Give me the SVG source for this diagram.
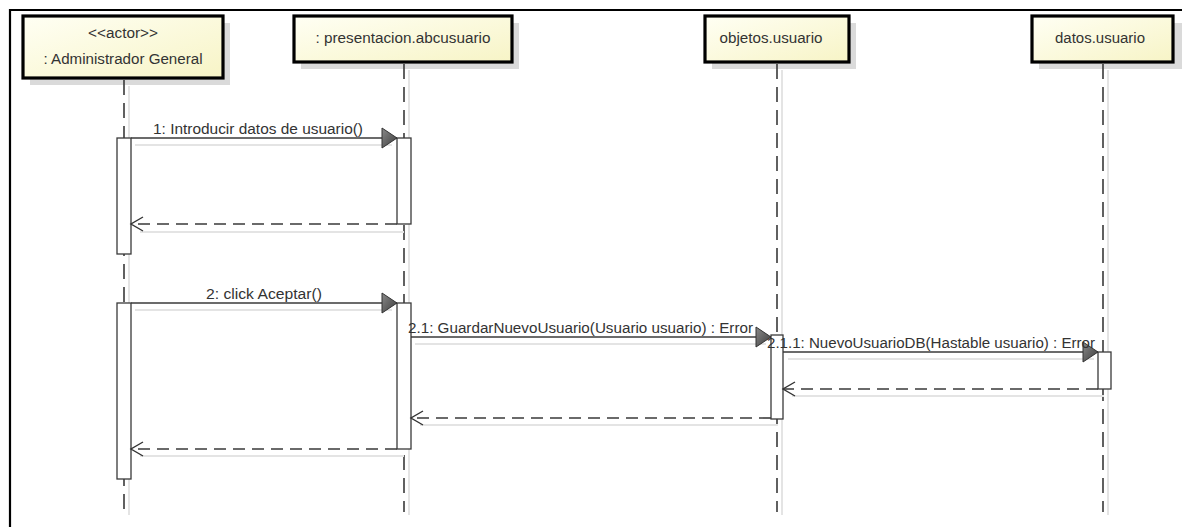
<svg xmlns="http://www.w3.org/2000/svg" width="1182" height="527" viewBox="0 0 1182 527">
  <style>
    .lbl { font-family: "Liberation Sans", Arial, sans-serif; font-size: 15.5px; fill: #333; }
    .box { fill: url(#boxFill); stroke: #000; stroke-width: 3.2; }
    .boxShadow { fill: #dadada; }
    .life { stroke: #3a3a3a; stroke-width: 1.6; stroke-dasharray: 15 8; fill: none; }
    .lifeShadow { stroke: #e4e4e4; stroke-width: 2; fill: none; }
    .act { fill: #fff; stroke: #3a3a3a; stroke-width: 1.3; }
    .call { stroke: #3a3a3a; stroke-width: 1.4; fill: none; marker-end: url(#filledHead); }
    .ret { stroke: #3a3a3a; stroke-width: 1.6; stroke-dasharray: 12 7; fill: none; marker-end: url(#openHead); }
    .msgShadow { stroke: #e4e4e4; stroke-width: 2; fill: none; }
    .frame { stroke: #000; stroke-width: 2.2; fill: none; }
  </style>
  <defs>
    <linearGradient id="boxFill" x1="0" y1="0" x2="1" y2="1">
      <stop offset="0" stop-color="#fffff4"/>
      <stop offset="1" stop-color="#f7f4c6"/>
    </linearGradient>
    <linearGradient id="headFill" x1="0" y1="0" x2="1" y2="1">
      <stop offset="0" stop-color="#8a8a8a"/>
      <stop offset="1" stop-color="#3c3c3c"/>
    </linearGradient>
    <marker id="filledHead" markerUnits="userSpaceOnUse" markerWidth="17" markerHeight="22" refX="15" refY="10" orient="auto" overflow="visible">
      <path d="M0,0 L15,10 L0,20 Z" fill="url(#headFill)" stroke="#333" stroke-width="1"/>
    </marker>
    <marker id="openHead" markerUnits="userSpaceOnUse" markerWidth="14" markerHeight="16" refX="12" refY="7" orient="auto" overflow="visible">
      <path d="M0,0 L12,7 L0,14" fill="none" stroke="#333" stroke-width="1.4"/>
    </marker>
  </defs>

  <rect width="1182" height="527" fill="#fff"/>
  <!-- diagram frame -->
  <path class="frame" d="M10,527 L10,10 L1182,10"/>

  <!-- lifeline shadows -->
  <g id="lifeline-shadows">
    <line class="lifeShadow" x1="129" y1="86" x2="129" y2="515"/>
    <line class="lifeShadow" x1="409" y1="70" x2="409" y2="515"/>
    <line class="lifeShadow" x1="782" y1="70" x2="782" y2="515"/>
    <line class="lifeShadow" x1="1108" y1="70" x2="1108" y2="515"/>
  </g>

  <g id="administrador">
    <rect class="boxShadow" x="30" y="23" width="200" height="62"/>
    <rect class="box" x="23" y="16" width="200" height="62"/>
    <text class="lbl" x="123" y="38" text-anchor="middle" textLength="70" lengthAdjust="spacingAndGlyphs">&lt;&lt;actor&gt;&gt;</text>
    <text class="lbl" x="123" y="64" text-anchor="middle" textLength="159" lengthAdjust="spacingAndGlyphs">: Administrador General</text>
    <line class="life" x1="124" y1="80" x2="124" y2="512"/>
    <rect class="act" x="117" y="138" width="14" height="116"/>
    <rect class="act" x="117" y="303" width="14" height="176"/>
  </g>

  <g id="presentacion">
    <rect class="boxShadow" x="301" y="23" width="218" height="46"/>
    <rect class="box" x="294" y="16" width="218" height="46"/>
    <text class="lbl" x="403" y="43" text-anchor="middle" textLength="175" lengthAdjust="spacingAndGlyphs">: presentacion.abcusuario</text>
    <line class="life" x1="404" y1="64" x2="404" y2="512"/>
    <rect class="act" x="397" y="138" width="14" height="86"/>
    <rect class="act" x="397" y="303" width="14" height="146"/>
  </g>

  <g id="objetos">
    <rect class="boxShadow" x="712" y="23" width="144" height="46"/>
    <rect class="box" x="705" y="16" width="144" height="46"/>
    <text class="lbl" x="771" y="43" text-anchor="middle" textLength="103" lengthAdjust="spacingAndGlyphs">objetos.usuario</text>
    <line class="life" x1="777" y1="64" x2="777" y2="512"/>
    <rect class="act" x="771" y="335" width="12" height="84"/>
  </g>

  <g id="datos">
    <rect class="boxShadow" x="1039" y="23" width="143" height="46"/>
    <rect class="box" x="1032" y="16" width="141" height="46"/>
    <text class="lbl" x="1100" y="43" text-anchor="middle" textLength="90" lengthAdjust="spacingAndGlyphs">datos.usuario</text>
    <line class="life" x1="1103" y1="64" x2="1103" y2="512"/>
    <rect class="act" x="1098" y="352" width="13" height="37"/>
  </g>

  <g id="connectors">
    <!-- soft shadows under the messages -->
    <line class="msgShadow" x1="135" y1="145" x2="392" y2="145"/>
    <line class="msgShadow" x1="140" y1="232" x2="404" y2="232"/>
    <line class="msgShadow" x1="135" y1="310" x2="392" y2="310"/>
    <line class="msgShadow" x1="415" y1="344" x2="766" y2="344"/>
    <line class="msgShadow" x1="788" y1="359" x2="1094" y2="359"/>
    <line class="msgShadow" x1="792" y1="396" x2="1104" y2="396"/>
    <line class="msgShadow" x1="420" y1="425" x2="778" y2="425"/>
    <line class="msgShadow" x1="140" y1="456" x2="404" y2="456"/>

    <line class="call" x1="131" y1="138" x2="397" y2="138"/>
    <text class="lbl" x="258" y="134" text-anchor="middle" textLength="210" lengthAdjust="spacingAndGlyphs">1: Introducir datos de usuario()</text>
    <line class="ret" x1="397" y1="224" x2="131" y2="224"/>

    <line class="call" x1="131" y1="303" x2="397" y2="303"/>
    <text class="lbl" x="264" y="299" text-anchor="middle" textLength="116" lengthAdjust="spacingAndGlyphs">2: click Aceptar()</text>

    <line class="call" x1="411" y1="337" x2="771" y2="337"/>
    <text class="lbl" x="408" y="333" textLength="345" lengthAdjust="spacingAndGlyphs">2.1: GuardarNuevoUsuario(Usuario usuario) : Error</text>

    <line class="call" x1="783" y1="352" x2="1098" y2="352"/>
    <text class="lbl" x="767" y="348" textLength="328" lengthAdjust="spacingAndGlyphs">2.1.1: NuevoUsuarioDB(Hastable usuario) : Error</text>

    <line class="ret" x1="1098" y1="389" x2="783" y2="389"/>
    <line class="ret" x1="771" y1="418" x2="411" y2="418"/>
    <line class="ret" x1="397" y1="449" x2="131" y2="449"/>
  </g>
</svg>
